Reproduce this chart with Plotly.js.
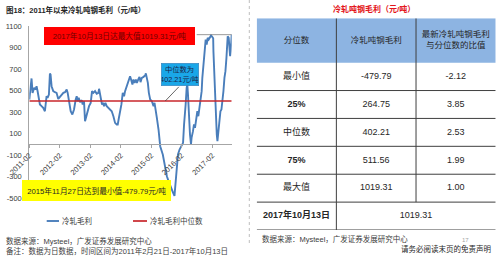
<!DOCTYPE html>
<html>
<head>
<meta charset="utf-8">
<script src="https://cdn.plot.ly/plotly-3.0.1.min.js"></script>
<style>html,body{margin:0;padding:0;background:#fff;}#chart{width:499px;height:256px;}</style>
</head>
<body>
<div id="chart"></div>
<script>
// ---------- data ----------
const dates = ['2011-02-21','2011-03-15','2011-03-20','2011-04-01','2011-04-21','2011-05-07','2011-05-19','2011-05-31','2011-06-16','2011-06-28','2011-07-18','2011-08-07','2011-08-27','2011-09-04','2011-09-16','2011-09-28','2011-10-14','2011-10-26','2011-11-03','2011-11-15','2011-12-05','2011-12-25','2012-01-14','2012-02-03','2012-02-25','2012-03-15','2012-04-04','2012-04-24','2012-05-14','2012-05-26','2012-06-11','2012-07-01','2012-07-21','2012-08-10','2012-08-30','2012-09-11','2012-09-23','2012-10-05','2012-10-21','2012-11-10','2012-11-22','2012-12-08','2012-12-20','2013-01-01','2013-01-17','2013-02-06','2013-02-26','2013-03-14','2013-03-30','2013-04-19','2013-05-09','2013-05-29','2013-06-06','2013-06-18','2013-06-30','2013-07-12','2013-07-24','2013-08-05','2013-08-21','2013-09-06','2013-09-26','2013-10-16','2013-11-05','2013-11-25','2013-12-15','2014-01-04','2014-01-16','2014-01-28','2014-02-13','2014-03-01','2014-03-17','2014-04-02','2014-04-14','2014-05-04','2014-05-24','2014-06-13','2014-06-25','2014-07-11','2014-07-23','2014-08-04','2014-08-21','2014-09-02','2014-09-22','2014-10-04','2014-10-16','2014-11-01','2014-11-21','2014-12-11','2014-12-19','2014-12-31','2015-01-12','2015-01-24','2015-02-09','2015-03-01','2015-03-21','2015-04-02','2015-04-14','2015-04-30','2015-05-20','2015-06-01','2015-06-09','2015-07-10','2015-08-08','2015-08-28','2015-09-17','2015-10-15','2015-11-10','2015-11-27','2015-12-15','2015-12-28','2016-01-08','2016-01-27','2016-02-21','2016-03-09','2016-03-21','2016-04-02','2016-04-09','2016-04-21','2016-04-29','2016-05-07','2016-05-19','2016-05-31','2016-06-12','2016-06-19','2016-07-06','2016-07-18','2016-07-30','2016-08-15','2016-08-27','2016-09-08','2016-09-24','2016-10-11','2016-10-18','2016-10-26','2016-11-07','2016-11-19','2016-11-28','2016-12-05','2016-12-17','2016-12-29','2017-01-10','2017-01-27','2017-02-08','2017-02-21','2017-03-05','2017-03-08','2017-03-17','2017-03-24','2017-04-05','2017-04-17','2017-04-25','2017-05-07','2017-05-19','2017-05-31','2017-06-12','2017-06-24','2017-07-06','2017-07-18','2017-07-30','2017-08-11','2017-08-19','2017-08-26','2017-09-07','2017-09-13','2017-09-24','2017-10-01','2017-10-10','2017-10-13'];
const profit = [416,602,612,478,525,510,540,495,416,370,355,339,307,360,447,432,463,658,649,540,494,484,478,422,441,463,478,484,509,478,385,307,277,323,416,447,400,432,391,410,370,400,214,245,307,354,385,494,478,494,469,478,516,478,416,370,385,354,385,354,339,329,307,261,199,184,184,237,292,370,478,447,494,540,587,633,602,556,602,571,602,571,609,627,578,618,627,640,659,618,571,478,416,400,354,385,339,246,137,44,-18,-95,-235,-297,-343,-410,-450,-479.79,-330,-204,-95,-49,-2,13,184,277,370,525,556,463,246,91,-2,60,122,184,153,246,307,261,339,416,494,618,742,866,943,974,928,990,974,1005,1012,1000,985,866,680,494,277,91,29,122,215,307,323,400,494,618,680,804,928,1005,990,928,819,866,959,1019.31];
const medianValue = 402.21;
const maxValue = 1019.31;
const maxDate = '2017-10-13';
const minValue = -479.79;
const minDate = '2015-11-27';
const seriesNames = ['冷轧毛利','冷轧毛利中位数'];
const xTickVals = ['2011-02-21','2012-02-21','2013-02-21','2014-02-21','2015-02-21','2016-02-21','2017-02-21'];
const xTickText = ['2011-02','2012-02','2013-02','2014-02','2015-02','2016-02','2017-02'];
const yTickVals = [-500,-300,-100,100,300,500,700,900,1100];
const yTickText = ['-500','-300','-100','100','300','500','700','900','1100'];

const tableHeader = ['分位数','冷轧吨钢毛利','最新冷轧吨钢毛利<br>与分位数的比值'];
const rowLabels = ['最小值','25%','中位数','75%','最大值','2017年10月13日'];
const rowBold = [false,true,false,true,false,true];
const quantileValues = ['-479.79','264.75','402.21','511.56','1019.31'];
const ratioValues = ['-2.12','3.85','2.53','1.99','1.00'];
const latestValue = '1019.31';

// ---------- layout helpers ----------
const W = 499, H = 256;
const fx = p => p / W;
const fy = p => 1 - p / H;
const FONT = 'Liberation Sans, Arial, Noto Sans CJK SC, sans-serif';
const yDom = [fy(198), fy(26)];
const yRange = [-500, 1100];
const zeroPos = yDom[0] + (0 - yRange[0]) / (yRange[1] - yRange[0]) * (yDom[1] - yDom[0]);
const HDR = 1.59; // header height in row units

const traces = [
  {x: dates, y: profit, type: 'scatter', mode: 'lines', name: seriesNames[0],
   line: {color: '#4A7EBB', width: 1.9}, hoverinfo: 'skip'},
  {x: [dates[0], dates[dates.length - 1]], y: [medianValue, medianValue], type: 'scatter', mode: 'lines',
   name: seriesNames[1], line: {color: '#C8262B', width: 1.7}, hoverinfo: 'skip'}
];

// table text traces on hidden axes x2/y2
const nBody = quantileValues.length;
const rowY = rowLabels.map((_, i) => i + 0.5);
traces.push({
  x: tableHeader.map((_, i) => i + 0.5), y: tableHeader.map(() => -HDR / 2),
  text: tableHeader, mode: 'text', type: 'scatter', xaxis: 'x2', yaxis: 'y2', cliponaxis: false,
  textfont: {family: FONT, size: 8.5, color: '#262626'}, hoverinfo: 'skip'
});
traces.push({
  x: rowLabels.map(() => 0.5), y: rowY,
  text: rowLabels.map((t, i) => rowBold[i] ? '<b>' + t + '</b>' : t),
  mode: 'text', type: 'scatter', xaxis: 'x2', yaxis: 'y2', cliponaxis: false,
  textfont: {family: FONT, size: 9, color: '#262626'}, hoverinfo: 'skip'
});
traces.push({
  x: quantileValues.map(() => 1.5).concat([2]), y: rowY,
  text: quantileValues.concat([latestValue]),
  mode: 'text', type: 'scatter', xaxis: 'x2', yaxis: 'y2', cliponaxis: false,
  textfont: {family: FONT, size: 9, color: '#262626'}, hoverinfo: 'skip'
});
traces.push({
  x: ratioValues.map(() => 2.5), y: rowY.slice(0, nBody),
  text: ratioValues,
  mode: 'text', type: 'scatter', xaxis: 'x2', yaxis: 'y2', cliponaxis: false,
  textfont: {family: FONT, size: 9, color: '#262626'}, hoverinfo: 'skip'
});

const shapes = [];
// table header fill
shapes.push({type: 'rect', xref: 'x2', yref: 'y2', x0: 0, x1: 3, y0: -HDR, y1: 0,
  fillcolor: '#8DB4E2', line: {width: 0}, layer: 'below'});
// row separators
for (let r = 1; r <= rowLabels.length; r++) {
  shapes.push({type: 'line', xref: 'x2', yref: 'y2', x0: 0, x1: 3, y0: r, y1: r,
    line: {color: '#3F3F3F', width: 1}});
}
// column separators
shapes.push({type: 'line', xref: 'x2', yref: 'y2', x0: 1, x1: 1, y0: -HDR, y1: rowLabels.length, line: {color: '#3F3F3F', width: 1}});
shapes.push({type: 'line', xref: 'x2', yref: 'y2', x0: 2, x1: 2, y0: -HDR, y1: nBody, line: {color: '#3F3F3F', width: 1}});
// dashed separator between panels
shapes.push({type: 'line', xref: 'paper', yref: 'paper', x0: fx(249.3), x1: fx(249.3), y0: fy(0), y1: fy(246),
  line: {color: '#BFBFBF', width: 1, dash: 'dot'}});
// legend samples
shapes.push({type: 'line', xref: 'paper', yref: 'paper', x0: fx(46.7), x1: fx(59), y0: fy(221), y1: fy(221), line: {color: '#4A7EBB', width: 1.9}});
shapes.push({type: 'line', xref: 'paper', yref: 'paper', x0: fx(133), x1: fx(147), y0: fy(221), y1: fy(221), line: {color: '#C8262B', width: 1.7}});

const ann = (o) => Object.assign({xref: 'paper', yref: 'paper', showarrow: false, font: {family: FONT, size: 7.5, color: '#404040'}}, o);
const annotations = [
  ann({x: fx(4), y: fy(10), xanchor: 'left', yanchor: 'middle', text: '<b>图18：2011年以来冷轧吨钢毛利（元/吨）</b>', font: {family: FONT, size: 7.5, color: '#262626'}}),
  // red box
  ann({x: fx(44), y: fy(26.7), xanchor: 'left', yanchor: 'top', width: 151, height: 18.3, borderpad: 0, borderwidth: 0,
       bgcolor: '#FF0000', text: '2017年10月13日达最大值' + maxValue.toFixed(2) + '元/吨', font: {family: FONT, size: 7.7, color: '#6E0000'}}),
  // connector to max
  {x: maxDate, y: maxValue, xref: 'x', yref: 'y', text: '', showarrow: true, arrowhead: 0, arrowwidth: 0.8,
   arrowcolor: '#7F7F7F', ax: -36.5, ay: 0, standoff: 0},
  // blue box
  ann({x: fx(160.7), y: fy(63.3), xanchor: 'left', yanchor: 'top', width: 36.6, height: 21.7, borderpad: 0, borderwidth: 0.6,
       bordercolor: '#3A7FB8', bgcolor: '#1AA7E8', text: '中位数为<br>' + medianValue.toFixed(2) + '元/吨', font: {family: FONT, size: 7.3, color: '#1B2648'}}),
  // connector to median
  {x: '2015-08-09', y: medianValue, xref: 'x', yref: 'y', text: '', showarrow: true, arrowhead: 0, arrowwidth: 0.8,
   arrowcolor: '#404040', ax: 15, ay: -15.7, standoff: 0},
  // yellow box
  ann({x: fx(21.7), y: fy(180), xanchor: 'left', yanchor: 'top', width: 149.3, height: 21, borderpad: 0, borderwidth: 0,
       bgcolor: '#FFFF00', text: '2015年11月27日达到最小值' + minValue.toFixed(2) + '元/吨', font: {family: FONT, size: 7.7, color: '#262626'}}),
  // legend texts
  ann({x: fx(60), y: fy(221), xanchor: 'left', yanchor: 'middle', text: seriesNames[0], font: {family: FONT, size: 7.5, color: '#404040'}}),
  ann({x: fx(148), y: fy(221), xanchor: 'left', yanchor: 'middle', text: seriesNames[1], font: {family: FONT, size: 7.5, color: '#404040'}}),
  // sources
  ann({x: fx(4), y: fy(241), xanchor: 'left', yanchor: 'middle', text: '数据来源：Mysteel，广发证券发展研究中心'}),
  ann({x: fx(4), y: fy(250.5), xanchor: 'left', yanchor: 'middle', text: '备注：数据为日数据，时间区间为2011年2月21日-2017年10月13日'}),
  // right panel
  ann({x: fx(374), y: fy(9), xanchor: 'center', yanchor: 'middle', text: '<b>冷轧吨钢毛利（元/吨）</b>', font: {family: FONT, size: 8, color: '#E3161B'}}),
  ann({x: fx(260), y: fy(239), xanchor: 'left', yanchor: 'middle', text: '数据来源：Mysteel，广发证券发展研究中心'}),
  ann({x: fx(465.7), y: fy(239.7), xanchor: 'center', yanchor: 'middle', text: '17', font: {family: FONT, size: 6, color: '#A6A6A6'}}),
  ann({x: fx(493), y: fy(248.5), xanchor: 'right', yanchor: 'middle', text: '请务必阅读末页的免责声明', font: {family: FONT, size: 7.5, color: '#262626'}})
];

const layout = {
  width: W, height: H, margin: {l: 0, r: 0, t: 0, b: 0},
  paper_bgcolor: '#FFFFFF', plot_bgcolor: 'rgba(0,0,0,0)', showlegend: false,
  font: {family: FONT, size: 7.5, color: '#404040'},
  xaxis: {type: 'date', domain: [fx(29.3), fx(231.7)], range: [dates[0], dates[dates.length - 1]],
    anchor: 'free', position: zeroPos, showline: true, linecolor: '#A6A6A6', linewidth: 1,
    tickvals: xTickVals, ticktext: xTickText, tickangle: -45, ticks: 'outside', ticklen: 3, tickcolor: '#A6A6A6',
    showgrid: false, zeroline: false, tickfont: {family: FONT, size: 7.5, color: '#404040'}, fixedrange: true},
  yaxis: {domain: yDom, range: yRange, anchor: 'x', tickvals: yTickVals, ticktext: yTickText,
    showline: true, linecolor: '#A6A6A6', linewidth: 1, showgrid: false, zeroline: false, ticks: '',
    ticklabelstandoff: 5, tickfont: {family: FONT, size: 7.5, color: '#404040'}, fixedrange: true},
  xaxis2: {domain: [fx(256.7), fx(495.7)], range: [0, 3], anchor: 'y2', visible: false, fixedrange: true},
  yaxis2: {domain: [fy(230), fy(18.3)], range: [rowLabels.length, -HDR], anchor: 'x2', visible: false, fixedrange: true},
  shapes: shapes, annotations: annotations
};

Plotly.newPlot('chart', traces, layout, {displayModeBar: false, staticPlot: true});
</script>
</body>
</html>
